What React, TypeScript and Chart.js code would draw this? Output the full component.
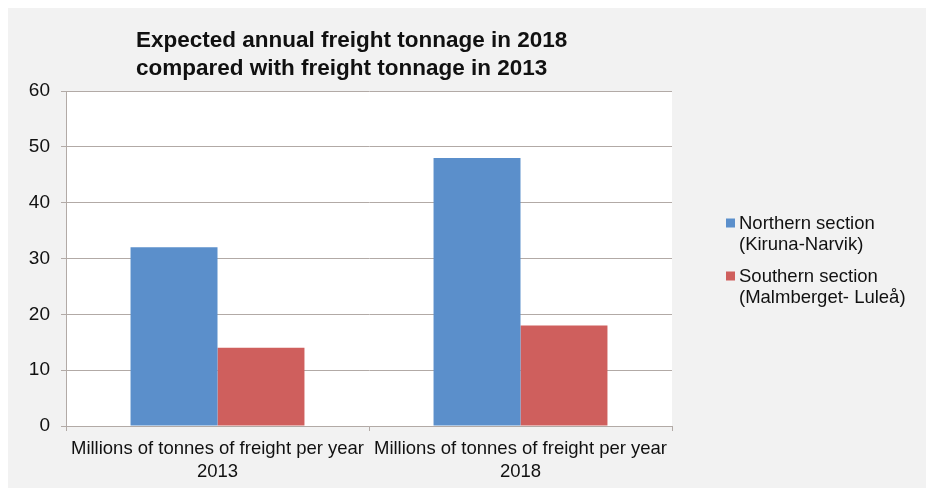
import React, { useEffect, useRef } from "react";
import { Chart, registerables } from "chart.js";

Chart.register(...registerables);

const categories: string[][] = [
  ["Millions of tonnes of freight per year", "2013"],
  ["Millions of tonnes of freight per year", "2018"],
];
const northernValues: number[] = [32, 48];
const southernValues: number[] = [14, 18];
const seriesNames: string[][] = [
  ["Northern section", "(Kiruna-Narvik)"],
  ["Southern section", "(Malmberget- Luleå)"],
];
const titleLines: string[] = [
  "Expected annual freight tonnage in 2018",
  "compared with freight tonnage in 2013",
];
const yMin = 0;
const yMax = 60;
const yStep = 10;

const BLUE = "#5b8fcb";
const RED = "#cf5f5d";
const GRID = "#b2aaa6";
const FONT = "'Liberation Sans', Arial, sans-serif";

export default function App() {
  const ref = useRef<HTMLCanvasElement | null>(null);

  useEffect(() => {
    document.documentElement.style.overflow = "hidden";
    const canvas = ref.current;
    if (!canvas) return;

    const bgPlugin = {
      id: "plotBg",
      beforeDraw(chart: any) {
        const { ctx, chartArea } = chart;
        ctx.save();
        ctx.fillStyle = "#ffffff";
        ctx.fillRect(chartArea.left, chartArea.top, chartArea.right - chartArea.left, chartArea.bottom - chartArea.top);
        ctx.restore();
      },
    };

    const titlePlugin = {
      id: "leftTitle",
      afterDraw(chart: any) {
        const { ctx, chartArea } = chart;
        ctx.save();
        ctx.fillStyle = "#111111";
        ctx.font = `bold 22.5px ${FONT}`;
        ctx.textAlign = "left";
        ctx.textBaseline = "middle";
        titleLines.forEach((t, i) => {
          ctx.fillText(t, chartArea.left + 70, chartArea.top - 50 + i * 28);
        });
        ctx.restore();
      },
    };

    const legendPlugin = {
      id: "sideLegend",
      afterDraw(chart: any) {
        const { ctx, chartArea } = chart;
        const colors = chart.data.datasets.map((d: any) => d.backgroundColor);
        ctx.save();
        ctx.font = `18.5px ${FONT}`;
        ctx.textAlign = "left";
        ctx.textBaseline = "middle";
        const x0 = chartArea.right + 54;
        let y = chartArea.top + 132.5;
        seriesNames.forEach((lines, i) => {
          ctx.fillStyle = colors[i];
          ctx.fillRect(x0, y - 5, 9, 9);
          ctx.fillStyle = "#111111";
          lines.forEach((ln, j) => {
            ctx.fillText(ln, x0 + 13, y + j * 21.5);
          });
          y += 53;
        });
        ctx.restore();
      },
    };

    const chart = new Chart(canvas, {
      type: "bar",
      data: {
        labels: categories,
        datasets: [
          { label: seriesNames[0].join(" "), data: northernValues, backgroundColor: BLUE, borderWidth: 0 },
          { label: seriesNames[1].join(" "), data: southernValues, backgroundColor: RED, borderWidth: 0 },
        ],
      },
      options: {
        animation: false,
        responsive: false,
        maintainAspectRatio: false,
        devicePixelRatio: 1,
        layout: { padding: { top: 83, right: 254, bottom: 0, left: 0 } },
        datasets: { bar: { categoryPercentage: 0.574, barPercentage: 1 } },
        plugins: {
          legend: { display: false },
          title: { display: false },
          tooltip: { enabled: false },
        },
        scales: {
          x: {
            offset: true,
            grid: { offset: true, drawOnChartArea: false, drawTicks: true, tickLength: 5, color: GRID },
            border: { color: GRID, width: 1 },
            ticks: { color: "#111111", font: { family: FONT, size: 18.5, lineHeight: 1.25 }, padding: 6, maxRotation: 0, autoSkip: false },
            afterFit(scale: any) { scale.height = 62; },
          },
          y: {
            min: yMin,
            max: yMax,
            ticks: { stepSize: yStep, color: "#111111", font: { family: FONT, size: 19 }, padding: 11 },
            grid: { color: GRID, tickLength: 5, lineWidth: 1 },
            border: { color: GRID, width: 1 },
            afterFit(scale: any) { scale.width = 58; },
          },
        },
      },
      plugins: [bgPlugin, titlePlugin, legendPlugin],
    });
    return () => chart.destroy();
  }, []);

  return (
    <div style={{ position: "fixed", left: 8, top: 8, width: 918, height: 480, background: "#f2f2f2" }}>
      <canvas ref={ref} width={918} height={480} style={{ display: "block" }} />
    </div>
  );
}
